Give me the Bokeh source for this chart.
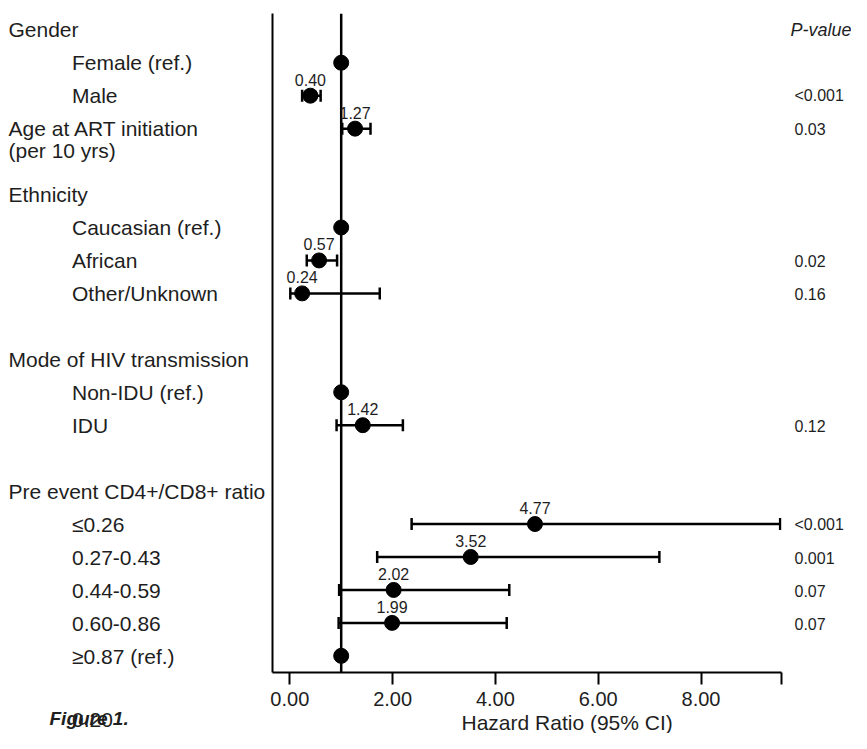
from bokeh.plotting import figure
from bokeh.layouts import row, column
from bokeh.models import (Range1d, FixedTicker, Whisker, Span, ColumnDataSource,
                          TeeHead, PrintfTickFormatter, Title)
from bokeh.core.properties import value
from bokeh.embed import file_html
from bokeh.resources import INLINE

# ---------------- data ----------------
headers = ["Gender", "Age at ART initiation", "Ethnicity",
           "Mode of HIV transmission", "Pre event CD4+/CD8+ ratio"]
header_rows = [0, 3, 5, 10, 14]
header_note = "(per 10 yrs)"

items = ["Female (ref.)", "Male", "Caucasian (ref.)", "African", "Other/Unknown",
         "Non-IDU (ref.)", "IDU", "≤0.26", "0.27-0.43", "0.44-0.59", "0.60-0.86",
         "≥0.87 (ref.)"]
item_rows = [1, 2, 6, 7, 8, 11, 12, 15, 16, 17, 18, 19]

est_rows = [1, 2, 3, 6, 7, 8, 11, 12, 15, 16, 17, 18, 19]
hazard_ratio = [1.00, 0.40, 1.27, 1.00, 0.57, 0.24, 1.00, 1.42, 4.77, 3.52, 2.02, 1.99, 1.00]

ci_rows = [2, 3, 7, 8, 12, 15, 16, 17, 18]
ci_hr = [0.40, 1.27, 0.57, 0.24, 1.42, 4.77, 3.52, 2.02, 1.99]
ci_low = [0.24, 1.02, 0.33, 0.01, 0.91, 2.37, 1.70, 0.96, 0.95]
ci_high = [0.60, 1.57, 0.92, 1.75, 2.20, 9.54, 7.19, 4.27, 4.22]
p_values = ["<0.001", "0.03", "0.02", "0.16", "0.12", "<0.001", "0.001", "0.07", "0.07"]

ref_hr = 1.0
x_ticks = [0, 2, 4, 6, 8]

# ---------------- layout constants (pixels) ----------------
FONT = "Liberation Sans"
TXT = "#1e1e1e"
X0_PX, PX_PER_UNIT = 289.3, 51.4
ROW0_PX, ROW_PX = 29.3, 33.0
H = 733
LEFT_W = 268
MID_BL, MID_BR = 4, 3
FRAME_L, FRAME_R = LEFT_W + MID_BL, 781
FRAME_T, FRAME_B = 13, 673
MID_W = MID_BL + (FRAME_R - FRAME_L) + MID_BR
RIGHT_X0 = LEFT_W + MID_W
RIGHT_W = 851 - RIGHT_X0
ALPHA_FIX = 7  # alphabetic baseline correction (px)


def xd(px):
    return (px - X0_PX) / PX_PER_UNIT


def yd(px):
    return (px - ROW0_PX) / ROW_PX


def side_fig(x0, w):
    f = figure(width=w, height=H, x_range=Range1d(x0, x0 + w),
               y_range=Range1d(yd(H), yd(0)), x_axis_type=None, y_axis_type=None,
               min_border_left=0, min_border_right=0, min_border_top=0,
               min_border_bottom=0, output_backend="svg", toolbar_location=None)
    f.outline_line_color = None
    f.grid.visible = False
    f.background_fill_color = "white"
    f.border_fill_color = "white"
    return f


# ---------------- left labels ----------------
lf = side_fig(0, LEFT_W)
lf.text(x=8, y=header_rows, text=headers, text_font=value(FONT), text_font_size="21px",
        text_color=TXT, text_align="left", text_baseline="middle")
lf.text(x=8, y=[header_rows[1] + 22 / ROW_PX], text=[header_note], text_font=value(FONT),
        text_font_size="21px", text_color=TXT, text_align="left", text_baseline="middle")
lf.text(x=71.5, y=item_rows, text=items, text_font=value(FONT), text_font_size="21px",
        text_color=TXT, text_align="left", text_baseline="middle")
lf.text(x=49, y=[yd(725 - ALPHA_FIX)], text=["Figure 1."], text_font=value(FONT),
        text_font_size="19px", text_font_style="bold italic", text_color=TXT,
        text_align="left", text_baseline="alphabetic")
lf.text(x=71.5, y=[yd(726 - ALPHA_FIX)], text=["0.20"], text_font=value(FONT),
        text_font_size="21px", text_color=TXT, text_align="left",
        text_baseline="alphabetic")

# ---------------- middle forest plot ----------------
x_start, x_end = xd(FRAME_L), xd(FRAME_R)
p = figure(width=MID_W, height=H,
           min_border_left=MID_BL, min_border_right=MID_BR,
           min_border_top=FRAME_T, min_border_bottom=H - FRAME_B,
           x_range=Range1d(x_start, x_end), y_range=Range1d(yd(FRAME_B), yd(FRAME_T)),
           output_backend="svg", toolbar_location=None)
p.outline_line_color = None
p.grid.visible = False
p.background_fill_color = "white"
p.border_fill_color = "white"

xa = p.xaxis[0]
xa.ticker = FixedTicker(ticks=x_ticks + [x_end])
xa.formatter = PrintfTickFormatter(format="%.2f")
xa.major_label_overrides = {x_end: ""}
xa.axis_line_width = 2
xa.axis_line_color = "black"
xa.major_tick_line_width = 2
xa.major_tick_line_color = "black"
xa.major_tick_out = 12
xa.major_tick_in = 0
xa.minor_tick_out = 0
xa.minor_tick_in = 0
xa.major_label_standoff = 7
xa.major_label_text_font = FONT
xa.major_label_text_font_size = "20px"
xa.major_label_text_color = TXT

ya = p.yaxis[0]
ya.ticker = FixedTicker(ticks=[])
ya.axis_line_width = 2
ya.axis_line_color = "black"
ya.major_tick_out = 0
ya.major_tick_in = 0
ya.minor_tick_out = 0
ya.minor_tick_in = 0
ya.major_label_standoff = 0

p.add_layout(Title(text="Hazard Ratio (95% CI)", align="left", offset=461 - FRAME_L,
                   standoff=0, text_font=FONT, text_font_size="21px",
                   text_font_style="normal", text_color=TXT), "below")

p.add_layout(Span(location=ref_hr, dimension="height", line_color="black",
                  line_width=2.5, level="underlay"))

ci_src = ColumnDataSource(dict(base=ci_rows, lower=ci_low, upper=ci_high))
p.add_layout(Whisker(source=ci_src, base="base", lower="lower", upper="upper",
                     dimension="width", line_color="black", line_width=2.5,
                     lower_head=TeeHead(size=12, line_width=2.5, line_color="black"),
                     upper_head=TeeHead(size=12, line_width=2.5, line_color="black")))

p.scatter(x=hazard_ratio, y=est_rows, size=15, marker="circle",
          fill_color="black", line_color="black")

p.text(x=ci_hr, y=[r - (9 + ALPHA_FIX) / ROW_PX for r in ci_rows],
       text=[f"{v:.2f}" for v in ci_hr],
       text_font=value(FONT), text_font_size="16px", text_color=TXT,
       text_align="center", text_baseline="alphabetic")

# ---------------- right p-values ----------------
rf = side_fig(RIGHT_X0, RIGHT_W)
rf.text(x=790, y=[0], text=["P-value"], text_font=value(FONT), text_font_size="18px",
        text_font_style="italic", text_color=TXT, text_align="left",
        text_baseline="middle")
rf.text(x=794, y=ci_rows, text=p_values, text_font=value(FONT), text_font_size="16px",
        text_color=TXT, text_align="left", text_baseline="middle")

layout = row(column(lf), p, column(rf), spacing=0)
open("out.html", "w").write(file_html(layout, INLINE))
